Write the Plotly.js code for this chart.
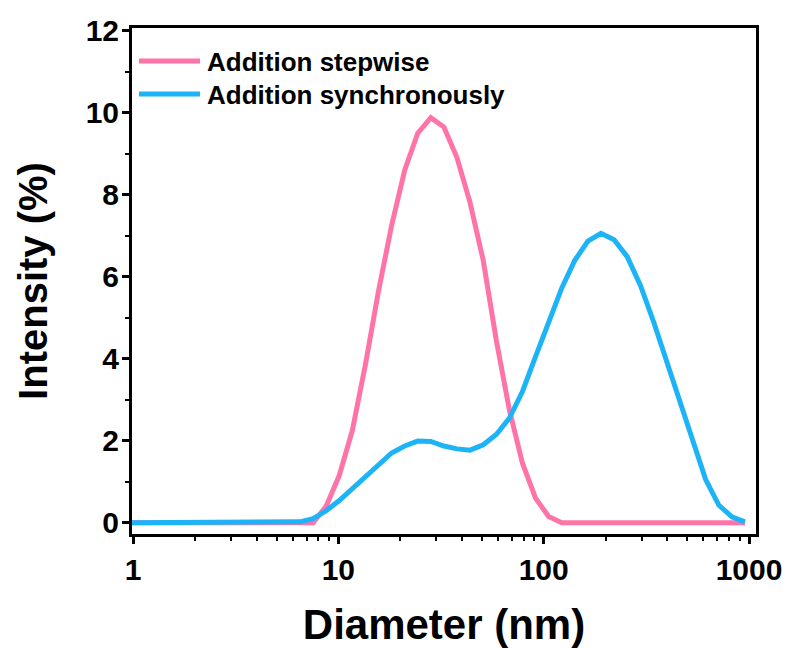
<!DOCTYPE html>
<html>
<head>
<meta charset="utf-8">
<script src="https://cdn.plot.ly/plotly-3.0.1.min.js"></script>
<style>html,body{margin:0;padding:0;background:#fff;}#chart{width:790px;height:648px;}</style>
</head>
<body>
<div id="chart"></div>
<script>
// Diameter bins (nm)
const diameter = [0.9649, 1.117, 1.294, 1.499, 1.736, 2.010, 2.328, 2.696, 3.122, 3.615, 4.187, 4.849, 5.615, 6.503,
  7.531, 8.721, 10.10, 11.70, 13.54, 15.69, 18.17, 21.04, 24.36, 28.21, 32.67, 37.84, 43.82, 50.75, 58.77, 68.06,
  78.82, 91.28, 105.7, 122.4, 141.8, 164.2, 190.1, 220.2, 255.0, 295.3, 342.0, 396.1, 458.7, 531.2, 615.1, 712.4, 825.0, 955.4];
// Intensity (%) – Addition stepwise
const stepwise = [0, 0, 0, 0, 0, 0, 0, 0, 0, 0, 0, 0, 0, 0,
  0, 0.4, 1.15, 2.25, 3.85, 5.65, 7.25, 8.6, 9.5, 9.88, 9.65, 8.9, 7.8, 6.4, 4.45, 2.75,
  1.45, 0.6, 0.15, 0, 0, 0, 0, 0, 0, 0, 0, 0, 0, 0, 0, 0, 0, 0];
// Intensity (%) – Addition synchronously
const synchronously = [0, 0, 0, 0, 0, 0, 0, 0, 0, 0, 0, 0, 0, 0.02,
  0.1, 0.29, 0.54, 0.83, 1.14, 1.44, 1.7, 1.87, 1.99, 1.98, 1.87, 1.8, 1.77, 1.9, 2.15, 2.55,
  3.2, 4.05, 4.9, 5.72, 6.4, 6.87, 7.06, 6.9, 6.49, 5.8, 4.92, 3.93, 2.93, 1.96, 1.05, 0.43, 0.14, 0.02];

const seriesNames = ['Addition stepwise', 'Addition synchronously'];
const seriesColors = ['#FF74A8', '#1CB4F6'];
const xTickVals = [1, 10, 100, 1000];
const xTickText = ['1', '10', '100', '1000'];
const xMinorVals = [2,3,4,5,6,7,8,9,20,30,40,50,60,70,80,90,200,300,400,500,600,700,800,900];
const yTickVals = [0, 2, 4, 6, 8, 10, 12];
const yMinorVals = [1, 3, 5, 7, 9, 11];

const FONT = '"Liberation Sans", Arial, Helvetica, sans-serif';
const W = 790, H = 648;
const M = {l: 132, r: 34, t: 28, b: 114};
const pw = W - M.l - M.r, ph = H - M.t - M.b;
const px = x => (x - M.l) / pw;
const py = y => (M.t + ph - y) / ph;

const traces = [stepwise, synchronously].map((vals, i) => ({
  type: 'scatter', mode: 'lines', x: diameter, y: vals, name: seriesNames[i],
  line: {color: seriesColors[i], width: 5}, showlegend: false
}));

const legendY = [61, 94];
const shapes = [];
const annotations = [];
seriesNames.forEach((n, i) => {
  shapes.push({type: 'line', xref: 'paper', yref: 'paper', x0: px(139), x1: px(200), y0: py(legendY[i]), y1: py(legendY[i]),
    line: {color: seriesColors[i], width: 5}});
  annotations.push({xref: 'paper', yref: 'paper', x: px(205), y: py(legendY[i] + 1), xanchor: 'left', yanchor: 'middle',
    text: n, showarrow: false, font: {family: FONT, size: 26, color: '#000', weight: 'bold'}});
});

const layout = {
  width: W, height: H,
  margin: M,
  paper_bgcolor: '#fff', plot_bgcolor: '#fff',
  showlegend: false,
  font: {family: FONT, color: '#000', weight: 'bold'},
  xaxis: {
    type: 'log', range: [-0.005, 3.034],
    tickmode: 'array', tickvals: xTickVals, ticktext: xTickText,
    ticks: 'outside', ticklen: 7, tickwidth: 3, tickcolor: '#000',
    minor: {tickmode: 'array', tickvals: xMinorVals, ticks: 'outside', ticklen: 4, tickwidth: 2, tickcolor: '#000'},
    showline: true, linewidth: 3, linecolor: '#000', mirror: true,
    showgrid: false, zeroline: false,
    tickfont: {family: FONT, size: 30, color: '#000', weight: 'bold'},
    title: {text: 'Diameter (nm)', font: {family: FONT, size: 42, color: '#000', weight: 'bold'}, standoff: 26}
  },
  yaxis: {
    range: [-0.276, 12.066],
    tickmode: 'array', tickvals: yTickVals,
    ticks: 'outside', ticklen: 7, tickwidth: 3, tickcolor: '#000',
    ticklabelstandoff: -3,
    minor: {tickmode: 'array', tickvals: yMinorVals, ticks: 'outside', ticklen: 4, tickwidth: 2, tickcolor: '#000'},
    showline: true, linewidth: 3, linecolor: '#000', mirror: true,
    showgrid: false, zeroline: false,
    tickfont: {family: FONT, size: 30, color: '#000', weight: 'bold'},
    title: {text: 'Intensity (%)', font: {family: FONT, size: 40, color: '#000', weight: 'bold'}, standoff: 26}
  },
  shapes: shapes,
  annotations: annotations
};

Plotly.newPlot('chart', traces, layout, {displayModeBar: false, staticPlot: true});
</script>
</body>
</html>
